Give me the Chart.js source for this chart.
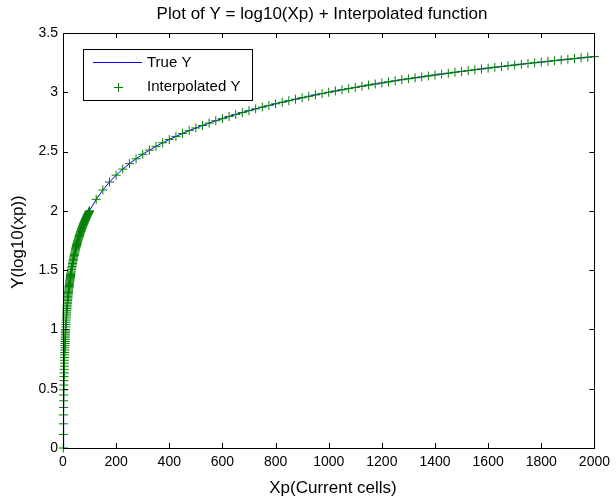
<!DOCTYPE html>
<html>
<head>
<meta charset="utf-8">
<script src="https://cdn.jsdelivr.net/npm/chart.js@4.4.1/dist/chart.umd.min.js"></script>
<style>
  html, body { margin: 0; padding: 0; background: #fff; }
  #wrap { width: 616px; height: 501px; }
</style>
</head>
<body>
<div id="wrap"><canvas id="plot" width="616" height="501"></canvas></div>
<script>
// dense part of the curve, Xp from 1 to 100
var xDense = [1, 1.3, 1.6, 1.9, 2.2, 2.5, 2.8, 3.1, 3.4, 3.7, 4, 4.3, 4.6, 4.9, 5.2, 5.5, 5.8, 6.1, 6.4, 6.7,
    7, 7.3, 7.6, 7.9, 8.2, 8.5, 8.8, 9.1, 9.4, 9.7, 10,
    10.5, 11, 11.5, 12, 12.5, 13, 13.5, 14, 14.5, 15, 15.5, 16, 16.5, 17, 17.5, 18, 18.5, 19, 19.5, 20,
    20.5, 21, 21.5, 22, 22.5, 23, 23.5, 24, 24.5, 25, 25.5, 26, 26.5, 27, 27.5, 28, 28.5, 29, 29.5, 30,
    31, 32, 33, 34, 35, 36, 37, 38, 39, 40, 41, 42, 43, 44, 45, 46, 47, 48, 49, 50,
    51, 52, 53, 54, 55, 56, 57, 58, 59, 60, 61, 62, 63, 64, 65, 66, 67, 68, 69, 70,
    71, 72, 73, 74, 75, 76, 77, 78, 79, 80, 81, 82, 83, 84, 85, 86, 87, 88, 89, 90,
    91, 92, 93, 94, 95, 96, 97, 98, 99, 100];
var yDense = [0, 0.114, 0.204, 0.279, 0.342, 0.398, 0.447, 0.491, 0.531, 0.568, 0.602, 0.633, 0.663, 0.690, 0.716, 0.740, 0.763, 0.785, 0.806, 0.826,
    0.845, 0.863, 0.881, 0.898, 0.914, 0.929, 0.944, 0.959, 0.973, 0.987, 1.000,
    1.021, 1.041, 1.061, 1.079, 1.097, 1.114, 1.130, 1.146, 1.161, 1.176, 1.190, 1.204, 1.217, 1.230, 1.243, 1.255, 1.267, 1.279, 1.290, 1.301,
    1.312, 1.322, 1.332, 1.342, 1.352, 1.362, 1.371, 1.380, 1.389, 1.398, 1.407, 1.415, 1.423, 1.431, 1.439, 1.447, 1.455, 1.462, 1.470, 1.477,
    1.491, 1.505, 1.519, 1.531, 1.544, 1.556, 1.568, 1.580, 1.591, 1.602, 1.613, 1.623, 1.633, 1.643, 1.653, 1.663, 1.672, 1.681, 1.690, 1.699,
    1.708, 1.716, 1.724, 1.732, 1.740, 1.748, 1.756, 1.763, 1.771, 1.778, 1.785, 1.792, 1.799, 1.806, 1.813, 1.820, 1.826, 1.833, 1.839, 1.845,
    1.851, 1.857, 1.863, 1.869, 1.875, 1.881, 1.886, 1.892, 1.898, 1.903, 1.908, 1.914, 1.919, 1.924, 1.929, 1.934, 1.940, 1.944, 1.949, 1.954,
    1.959, 1.964, 1.968, 1.973, 1.978, 1.982, 1.987, 1.991, 1.996, 2.000];

// coarse part, Xp from 125 to 2000
var xCoarse = [125, 150, 175, 200, 225, 250, 275, 300, 325, 350, 375, 400, 425, 450, 475, 500,
    525, 550, 575, 600, 625, 650, 675, 700, 725, 750, 775, 800, 825, 850, 875, 900, 925, 950, 975, 1000,
    1025, 1050, 1075, 1100, 1125, 1150, 1175, 1200, 1225, 1250, 1275, 1300, 1325, 1350, 1375, 1400,
    1425, 1450, 1475, 1500, 1525, 1550, 1575, 1600, 1625, 1650, 1675, 1700, 1725, 1750, 1775, 1800,
    1825, 1850, 1875, 1900, 1925, 1950, 1975, 2000];
var yCoarse = [2.097, 2.176, 2.243, 2.301, 2.352, 2.398, 2.439, 2.477, 2.512, 2.544, 2.574, 2.602, 2.628, 2.653, 2.677, 2.699,
    2.720, 2.740, 2.760, 2.778, 2.796, 2.813, 2.829, 2.845, 2.860, 2.875, 2.889, 2.903, 2.916, 2.929, 2.942, 2.954, 2.966, 2.978, 2.989, 3.000,
    3.011, 3.021, 3.031, 3.041, 3.051, 3.061, 3.070, 3.079, 3.088, 3.097, 3.106, 3.114, 3.122, 3.130, 3.138, 3.146,
    3.154, 3.161, 3.169, 3.176, 3.183, 3.190, 3.197, 3.204, 3.211, 3.217, 3.224, 3.230, 3.237, 3.243, 3.249, 3.255,
    3.261, 3.267, 3.273, 3.279, 3.284, 3.290, 3.296, 3.301];

var xTicks = [0, 200, 400, 600, 800, 1000, 1200, 1400, 1600, 1800, 2000];
var yTicks = [0, 0.5, 1, 1.5, 2, 2.5, 3, 3.5];
var yTickLabels = ['0', '0.5', '1', '1.5', '2', '2.5', '3', '3.5'];

var seriesNames = ['True Y', 'Interpolated Y'];
var titleText = 'Plot of Y = log10(Xp) + Interpolated function';
var xTitle = 'Xp(Current cells)';
var yTitle = 'Y(log10(xp))';

var FONT = '"Liberation Sans", Arial, Helvetica, sans-serif';
var BLUE = '#0000ff';
var GREEN = '#008000';

function toPoints(xs, ys) {
    var pts = [];
    for (var i = 0; i < xs.length; i++) pts.push({ x: xs[i], y: ys[i] });
    return pts;
}
var allPoints = toPoints(xDense, yDense).concat(toPoints(xCoarse, yCoarse));

// box, inward ticks, titles and legend in matlab style
var matlabFrame = {
    id: 'matlabFrame',
    afterDraw: function (chart) {
        var ctx = chart.ctx;
        var a = chart.chartArea;
        var sx = chart.scales.x, sy = chart.scales.y;
        var tl = 5;
        ctx.save();
        ctx.strokeStyle = '#000';
        ctx.lineWidth = 1;
        ctx.strokeRect(Math.round(a.left) + 0.5, Math.round(a.top) + 0.5,
            Math.round(a.right - a.left), Math.round(a.bottom - a.top));

        ctx.beginPath();
        xTicks.forEach(function (v) {
            var px = Math.round(sx.getPixelForValue(v)) + 0.5;
            ctx.moveTo(px, a.bottom); ctx.lineTo(px, a.bottom - tl);
            ctx.moveTo(px, a.top); ctx.lineTo(px, a.top + tl);
        });
        yTicks.forEach(function (v) {
            var py = Math.round(sy.getPixelForValue(v)) + 0.5;
            ctx.moveTo(a.left, py); ctx.lineTo(a.left + tl, py);
            ctx.moveTo(a.right, py); ctx.lineTo(a.right - tl, py);
        });
        ctx.stroke();

        // titles
        ctx.fillStyle = '#000';
        ctx.textAlign = 'center';
        ctx.textBaseline = 'middle';
        ctx.font = '17px ' + FONT;
        ctx.fillText(titleText, 322, 14);
        ctx.fillText(xTitle, 333, 488);
        ctx.save();
        ctx.translate(18, 242);
        ctx.rotate(-Math.PI / 2);
        ctx.fillText(yTitle, 0, 0);
        ctx.restore();

        // legend
        var lx = 83, ly = 49, lw = 169, lh = 51;
        ctx.fillStyle = '#fff';
        ctx.fillRect(lx, ly, lw, lh);
        ctx.strokeStyle = '#000';
        ctx.strokeRect(lx + 0.5, ly + 0.5, lw, lh);
        ctx.strokeStyle = BLUE;
        ctx.beginPath();
        ctx.moveTo(93, 62.5); ctx.lineTo(142, 62.5);
        ctx.stroke();
        ctx.strokeStyle = GREEN;
        ctx.beginPath();
        ctx.moveTo(118.5, 83); ctx.lineTo(118.5, 92);
        ctx.moveTo(114, 87.5); ctx.lineTo(123, 87.5);
        ctx.stroke();
        ctx.fillStyle = '#000';
        ctx.textAlign = 'left';
        ctx.font = '15px ' + FONT;
        ctx.fillText(seriesNames[0], 147, 63);
        ctx.fillText(seriesNames[1], 147, 87);
        ctx.restore();
    }
};

var ctx = document.getElementById('plot').getContext('2d');
var myChart = new Chart(ctx, {
    type: 'scatter',
    data: {
        datasets: [{
            label: seriesNames[0],
            data: allPoints,
            showLine: true,
            borderColor: BLUE,
            borderWidth: 1,
            pointRadius: 0,
            fill: false,
            order: 2
        }, {
            label: seriesNames[1],
            data: allPoints,
            showLine: false,
            pointStyle: 'cross',
            pointRadius: 4.5,
            borderColor: GREEN,
            backgroundColor: GREEN,
            pointBorderWidth: 1,
            clip: false,
            order: 1
        }]
    },
    options: {
        responsive: false,
        animation: false,
        events: [],
        layout: { padding: { top: 33, right: 19, left: 0, bottom: 0 } },
        plugins: {
            legend: { display: false },
            tooltip: { enabled: false },
            title: { display: false }
        },
        scales: {
            x: {
                type: 'linear',
                min: 0,
                max: 2000,
                grid: { display: false, drawTicks: false },
                border: { display: false },
                afterBuildTicks: function (scale) {
                    scale.ticks = xTicks.map(function (v) { return { value: v }; });
                },
                afterFit: function (scale) { scale.height = 53; },
                ticks: {
                    padding: 6,
                    maxRotation: 0,
                    autoSkip: false,
                    color: '#000',
                    font: { family: FONT, size: 14 },
                    callback: function (v) { return String(v); }
                }
            },
            y: {
                type: 'linear',
                min: 0,
                max: 3.5,
                grid: { display: false, drawTicks: false },
                border: { display: false },
                afterBuildTicks: function (scale) {
                    scale.ticks = yTicks.map(function (v) { return { value: v }; });
                },
                afterFit: function (scale) { scale.width = 63; },
                ticks: {
                    padding: 5,
                    autoSkip: false,
                    color: '#000',
                    font: { family: FONT, size: 14 },
                    callback: function (v) { return yTickLabels[yTicks.indexOf(v)]; }
                }
            }
        }
    },
    plugins: [matlabFrame]
});
</script>
</body>
</html>
